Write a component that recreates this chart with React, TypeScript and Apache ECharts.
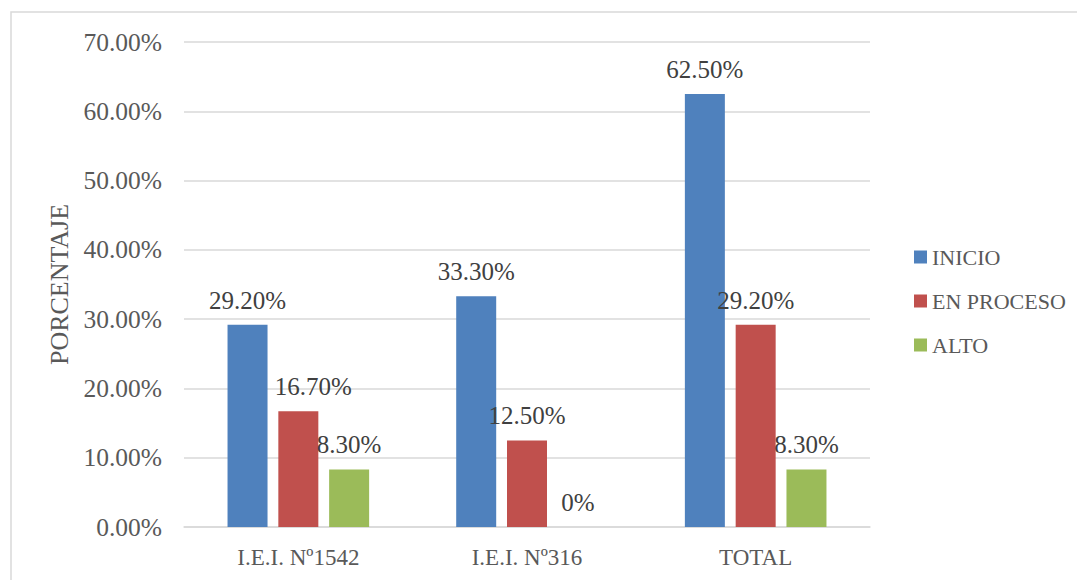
import React, { useEffect, useRef } from "react";
import * as echarts from "echarts";

const categories = ["I.E.I. Nº1542", "I.E.I. Nº316", "TOTAL"];
const seriesNames = ["INICIO", "EN PROCESO", "ALTO"];
const inicio = [29.2, 33.3, 62.5];
const enProceso = [16.7, 12.5, 29.2];
const alto = [8.3, 0, 8.3];
const colors = ["#4F81BD", "#C0504D", "#9BBB59"];
const yTicks = { min: 0, max: 70, interval: 10 };

const FONT = "Liberation Serif";

export default function App() {
  const ref = useRef<HTMLDivElement>(null);
  useEffect(() => {
    if (!ref.current) return;
    const chart = echarts.init(ref.current, undefined, { renderer: "svg" });
    const values = [inicio, enProceso, alto];
    const fmt = (v: number) => (v === 0 ? "0%" : v.toFixed(2) + "%");
    chart.setOption({
      animation: false,
      backgroundColor: "#ffffff",
      textStyle: { fontFamily: FONT },
      graphic: [
        {
          type: "rect",
          shape: { x: 11, y: 12, width: 1080, height: 600 },
          style: { fill: "none", stroke: "#d9d9d9", lineWidth: 1.5 },
          silent: true,
        },
      ],
      grid: { left: 184, right: 207, top: 42, bottom: 53, containLabel: false },
      legend: {
        orient: "vertical",
        left: 909,
        top: 241,
        itemWidth: 13,
        itemHeight: 13,
        itemGap: 22,
        icon: "rect",
        data: seriesNames,
        textStyle: { fontFamily: FONT, fontSize: 22, color: "#595959" },
      },
      xAxis: {
        type: "category",
        data: categories,
        axisLine: { lineStyle: { color: "#d9d9d9", width: 1.5 } },
        axisTick: { show: false },
        axisLabel: { fontFamily: FONT, fontSize: 23, color: "#595959", margin: 19 },
      },
      yAxis: {
        type: "value",
        min: yTicks.min,
        max: yTicks.max,
        interval: yTicks.interval,
        name: "PORCENTAJE",
        nameLocation: "middle",
        nameGap: 112,
        nameRotate: 90,
        nameTextStyle: { fontFamily: FONT, fontSize: 26, color: "#595959" },
        axisLine: { show: false },
        axisTick: { show: false },
        splitLine: { lineStyle: { color: "#d9d9d9", width: 1.5 } },
        axisLabel: {
          fontFamily: FONT,
          fontSize: 25.5,
          color: "#595959",
          margin: 22,
          formatter: (v: number) => v.toFixed(2) + "%",
        },
      },
      series: seriesNames.map((name, si) => ({
        name,
        type: "bar",
        barWidth: 40,
        barGap: "27%",
        barCategoryGap: "38%",
        itemStyle: { color: colors[si] },
        label: {
          show: true,
          position: "top",
          distance: 12,
          fontFamily: FONT,
          fontSize: 25,
          color: "#404040",
          formatter: (p: any) => fmt(p.value),
        },
        data: values[si].map((v, i) =>
          si === 1 && i === 0 ? { value: v, label: { offset: [15, 0] } } : v
        ),
      })),
    });
    return () => chart.dispose();
  }, []);
  return (
    <div
      ref={ref}
      style={{ position: "fixed", left: 0, top: 0, width: 1077, height: 580 }}
    />
  );
}
